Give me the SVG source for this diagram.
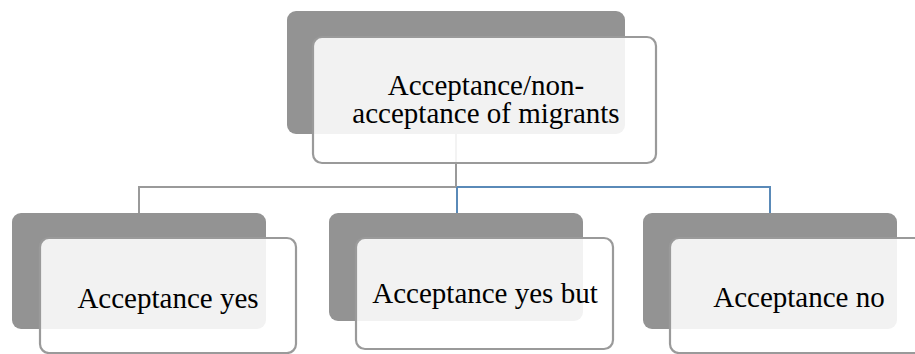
<svg xmlns="http://www.w3.org/2000/svg" width="915" height="354" viewBox="0 0 915 354">
<style>
.back{fill:#939393;}
.front{fill:#ffffff;fill-opacity:0.88;stroke:#9a9a9a;stroke-width:2.2;}
.lbl{font-family:"Liberation Serif","Times New Roman",serif;font-size:29px;fill:#000;text-anchor:middle;}
.cg{fill:none;stroke:#9a9a9a;stroke-width:2;}
.cb{fill:none;stroke:#5a8ab8;stroke-width:2;}
</style>
<rect width="915" height="354" fill="#ffffff"/>
<g id="connectors">
<path class="cg" d="M456,134 V187 H139 V213"/>
<path class="cb" d="M457,187 H770 V213 M457,187 V213"/>
</g>
<g id="root">
<rect class="back" x="287" y="11" width="338" height="123" rx="9"/>
<rect class="front" x="313" y="37" width="343" height="126" rx="9"/>
<text class="lbl" x="486" y="95">Acceptance/non-</text>
<text class="lbl" x="486" y="123">acceptance of migrants</text>
</g>
<g id="yes">
<rect class="back" x="12" y="213" width="254" height="116" rx="9"/>
<rect class="front" x="40" y="238" width="256" height="115" rx="9"/>
<text class="lbl" x="168" y="308">Acceptance yes</text>
</g>
<g id="yesbut">
<rect class="back" x="329" y="213" width="254" height="108" rx="9"/>
<rect class="front" x="356" y="238" width="257" height="111" rx="9"/>
<text class="lbl" x="485" y="303">Acceptance yes but</text>
</g>
<g id="no">
<rect class="back" x="643" y="213" width="254" height="116" rx="9"/>
<rect class="front" x="670" y="238" width="256" height="115" rx="9"/>
<text class="lbl" x="799" y="307">Acceptance no</text>
</g>
</svg>
